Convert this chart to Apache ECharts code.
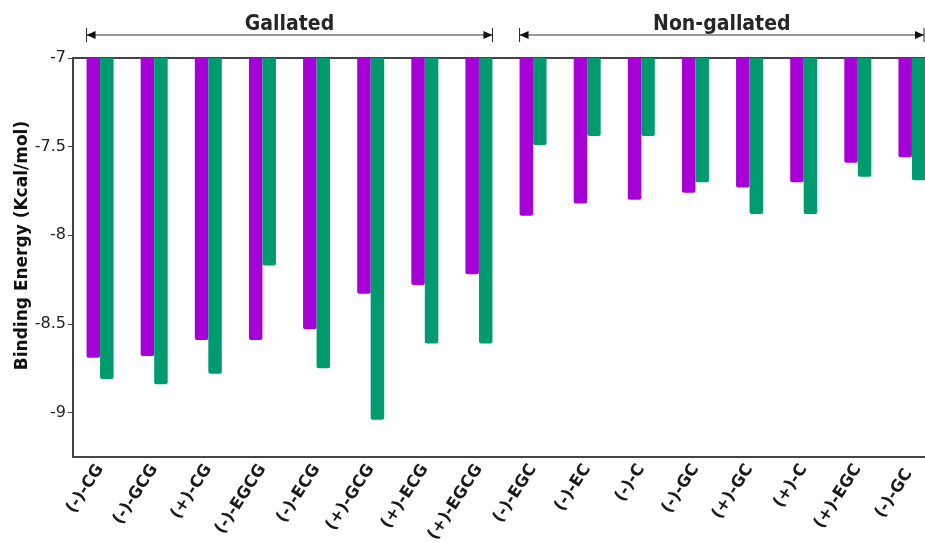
<!DOCTYPE html>
<html>
<head>
<meta charset="utf-8">
<script src="https://cdn.jsdelivr.net/npm/echarts@6/dist/echarts.min.js"></script>
<style>
  html, body { margin: 0; padding: 0; background: #fff; }
  #main { width: 925px; height: 543px; }
</style>
</head>
<body>
<div id="main"></div>
<script>
// compounds on the x axis
const compounds = ['(-)-CG', '(-)-GCG', '(+)-CG', '(-)-EGCG', '(-)-ECG', '(+)-GCG', '(+)-ECG', '(+)-EGCG',
  '(-)-EGC', '(-)-EC', '(-)-C', '(-)-GC', '(+)-GC', '(+)-C', '(+)-EGC', '(-)-GC '];
// binding energies (Kcal/mol)
const purpleVals = [-8.69, -8.68, -8.59, -8.59, -8.53, -8.33, -8.28, -8.22,
  -7.89, -7.82, -7.80, -7.76, -7.73, -7.70, -7.59, -7.56];
const greenVals = [-8.81, -8.84, -8.78, -8.17, -8.75, -9.04, -8.61, -8.61,
  -7.49, -7.44, -7.44, -7.70, -7.88, -7.88, -7.67, -7.69];
const yTicks = [-9, -8.5, -8, -7.5, -7];
// brackets above the plot: first and last compound index of each group
const groupNames = ['Gallated', 'Non-gallated'];
const groupFrom = [0, 8];
const groupTo = [7, 15];

const purple = '#a600d6';
const green = '#009a6f';
const barW = 13.5;

var myChart = echarts.init(document.getElementById('main'));

// the plot runs past the right edge of the picture (last bar is cut off)
myChart.setOption({
  animation: false,
  grid: {
    left: 73, top: 58, bottom: 86, width: 866,
    outerBoundsMode: 'none',
    containLabel: false,
    show: true, borderColor: '#444', borderWidth: 2
  },
  xAxis: {
    type: 'category',
    data: compounds,
    axisLine: { lineStyle: { color: '#444', width: 2 } },
    axisTick: { alignWithLabel: true, inside: true, length: 5, lineStyle: { color: '#444' } },
    axisLabel: {
      interval: 0,
      rotate: 57,
      margin: 9,
      color: '#1a1a1a',
      fontWeight: 'bold',
      fontSize: 16.5,
      fontFamily: 'DejaVu Sans'
    }
  },
  yAxis: {
    type: 'value',
    min: -9.25,
    max: -7,
    name: 'Binding Energy (Kcal/mol)',
    nameLocation: 'middle',
    nameGap: 42,
    nameMoveOverlap: false,
    nameTextStyle: {
      color: '#111', fontWeight: 'bold', fontSize: 17, fontFamily: 'DejaVu Sans',
      padding: [0, 0, 0, 24]
    },
    splitLine: { show: false },
    axisLine: { show: true, lineStyle: { color: '#444', width: 2 } },
    axisTick: { show: true, length: 5, customValues: yTicks, lineStyle: { color: '#444' } },
    axisLabel: {
      customValues: yTicks,
      color: '#222', fontSize: 16, margin: 7, fontFamily: 'DejaVu Sans'
    }
  },
  series: [
    {
      name: 'purple', type: 'bar', data: purpleVals,
      barWidth: barW, barGap: '0%', clip: true,
      itemStyle: { color: purple, borderRadius: [0, 0, 2, 2] }
    },
    {
      name: 'green', type: 'bar', data: greenVals,
      barWidth: barW, barGap: '0%', clip: true,
      itemStyle: { color: green, borderRadius: [0, 0, 2, 2] }
    }
  ]
});

// group brackets with arrows, placed from the category axis
var graphics = [];
var yLine = 35;
for (var g = 0; g < groupNames.length; g++) {
  var x1 = myChart.convertToPixel({ xAxisIndex: 0 }, groupFrom[g]) - barW;
  var x2 = myChart.convertToPixel({ xAxisIndex: 0 }, groupTo[g]) + barW;
  x2 = Math.min(x2, 924);
  graphics.push({ type: 'line', shape: { x1: x1, y1: yLine, x2: x2, y2: yLine }, style: { stroke: '#999', lineWidth: 2 } });
  graphics.push({ type: 'line', shape: { x1: x1, y1: yLine - 7, x2: x1, y2: yLine + 7 }, style: { stroke: '#222', lineWidth: 1 } });
  graphics.push({ type: 'line', shape: { x1: x2, y1: yLine - 7, x2: x2, y2: yLine + 7 }, style: { stroke: '#222', lineWidth: 1 } });
  graphics.push({ type: 'polygon', shape: { points: [[x1, yLine], [x1 + 9, yLine - 4], [x1 + 9, yLine + 4]] }, style: { fill: '#111' } });
  graphics.push({ type: 'polygon', shape: { points: [[x2, yLine], [x2 - 9, yLine - 4], [x2 - 9, yLine + 4]] }, style: { fill: '#111' } });
  graphics.push({
    type: 'text', x: (x1 + x2) / 2, y: 25,
    style: {
      text: groupNames[g], fill: '#262626', font: 'bold 21px "DejaVu Sans Condensed", "DejaVu Sans"',
      align: 'center', verticalAlign: 'middle'
    }
  });
}
myChart.setOption({ graphic: graphics });
</script>
</body>
</html>
